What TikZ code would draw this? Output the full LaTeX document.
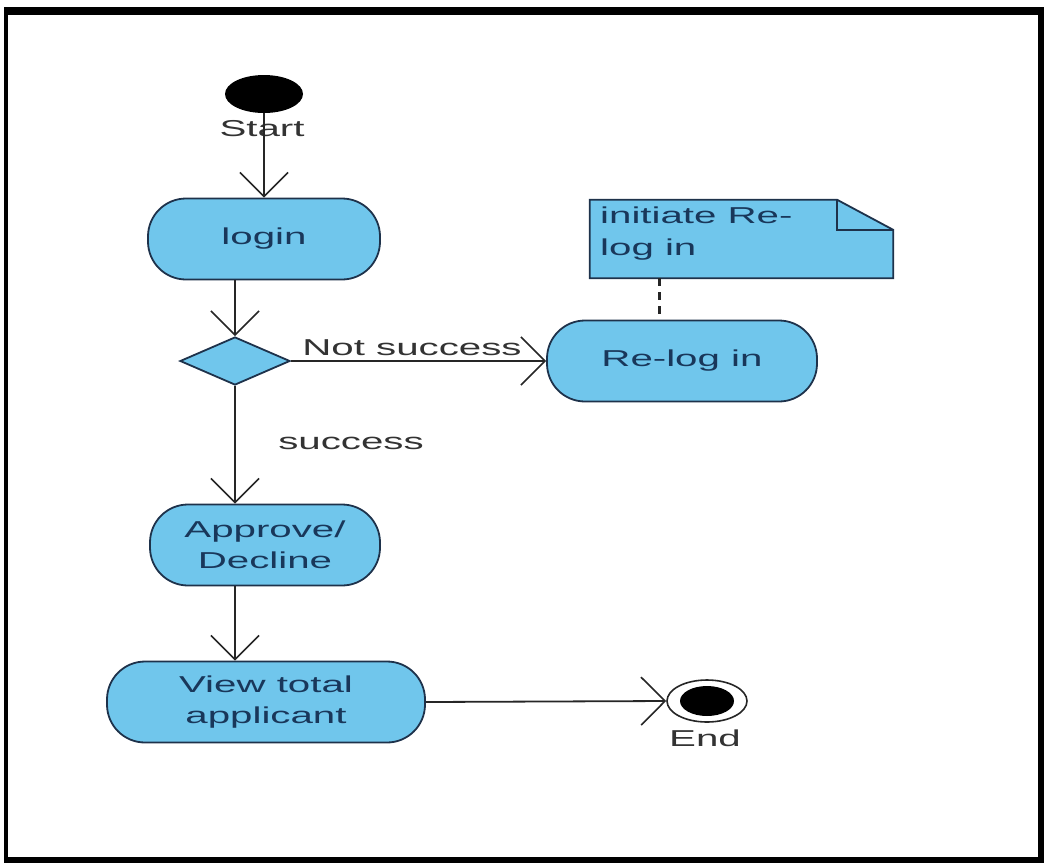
\documentclass[tikz,border=0pt]{standalone}
\usepackage{fontspec}
\usepackage{graphicx}
\setmainfont{Liberation Sans}
\usetikzlibrary{shapes.geometric,arrows.meta,calc}
\definecolor{actfill}{RGB}{112,198,236}
\definecolor{actline}{RGB}{30,50,75}
\definecolor{acttext}{RGB}{25,55,90}
% wide lettering used for every label
\newcommand\wtext[1]{\scalebox{1.75}[1]{#1}}
\begin{document}
\begin{tikzpicture}[x=1pt,y=-1pt,
  activity/.style={draw=actline,fill=actfill,line width=1.8pt,rounded corners=38pt,
    minimum height=81pt,inner sep=0pt,align=center,text=acttext,
    font=\fontsize{23}{31}\selectfont},
  flow/.style={draw=black!85,line width=1.8pt,
    -{Straight Barb[length=24pt,width=48pt,line width=1.6pt]}},
  lbl/.style={font=\fontsize{23}{28}\selectfont,text=black!80,inner sep=0pt}]
% frame
\fill[black] (4,7) rectangle (1044,863);
\fill[white] (8,15) rectangle (1038,857);
\useasboundingbox (0,0) rectangle (1044,863);

% start / end
\node[ellipse,fill=black,minimum width=78pt,minimum height=38pt,inner sep=0pt] (start) at (264,94) {};
\node[lbl] (startlbl) at (262,129) {\wtext{Start}};
\node[ellipse,draw=black!85,line width=1.6pt,fill=white,minimum width=80pt,minimum height=42pt,inner sep=0pt] (end) at (707,701) {};
\node[ellipse,fill=black,minimum width=54pt,minimum height=30pt,inner sep=0pt] (endcore) at (end) {};
\node[lbl] (endlbl) at (705,738) {\wtext{End}};

% activities
\node[activity,minimum width=232pt] (login) at (264,239) {\wtext{login}};
\node[diamond,draw=actline,fill=actfill,line width=1.8pt,aspect=2.3,minimum width=110pt,minimum height=48pt,inner sep=0pt] (dec) at (235,361) {};
\node[activity,minimum width=270pt] (relog) at (682,361) {\wtext{Re-log in}};
\node[activity,minimum width=230pt] (appr) at (265,545) {\wtext{Approve/}\\\wtext{Decline}};
\node[activity,minimum width=318pt] (view) at (266,702) {\wtext{View total}\\\wtext{applicant}};

% note with folded corner
\node[minimum width=303pt,minimum height=78pt,inner sep=0pt] (note) at (741.5,239) {};
\draw[draw=actline,fill=actfill,line width=1.8pt]
  (note.north west) -- ($(note.north east)+(-56,0)$) -- ($(note.north east)+(0,30)$)
  -- (note.south east) -- (note.south west) -- cycle;
\draw[draw=actline,line width=1.8pt]
  ($(note.north east)+(-56,0)$) -- ($(note.north east)+(-56,30)$) -- ($(note.north east)+(0,30)$);
\node[anchor=north west,align=left,text=acttext,inner sep=0pt,
  font=\fontsize{23}{32}\selectfont] (notetext) at (600,207) {\wtext{initiate Re-}\\\wtext{log in}};
\path (note.south west) ++(70,0) coordinate (nb);
\draw[black!85,line width=3pt,dash pattern=on 8pt off 6pt] (nb) -- (nb |- relog.north);

% flows
\draw[flow] (start) -- (login.north);
\draw[flow] (login.south -| dec.north) -- (dec.north);
\draw[flow] (dec.east) -- (relog.west);
\node[lbl] (notok) at (412,348) {\wtext{Not success}};
\draw[flow] (dec.south) -- (dec.south |- appr.north);
\node[lbl] (ok) at (351,443) {\wtext{success}};
\draw[flow] (appr.south -| dec.south) -- (view.north -| dec.south);
\draw[flow] (view.east) -- (end.west);
\end{tikzpicture}
\end{document}
